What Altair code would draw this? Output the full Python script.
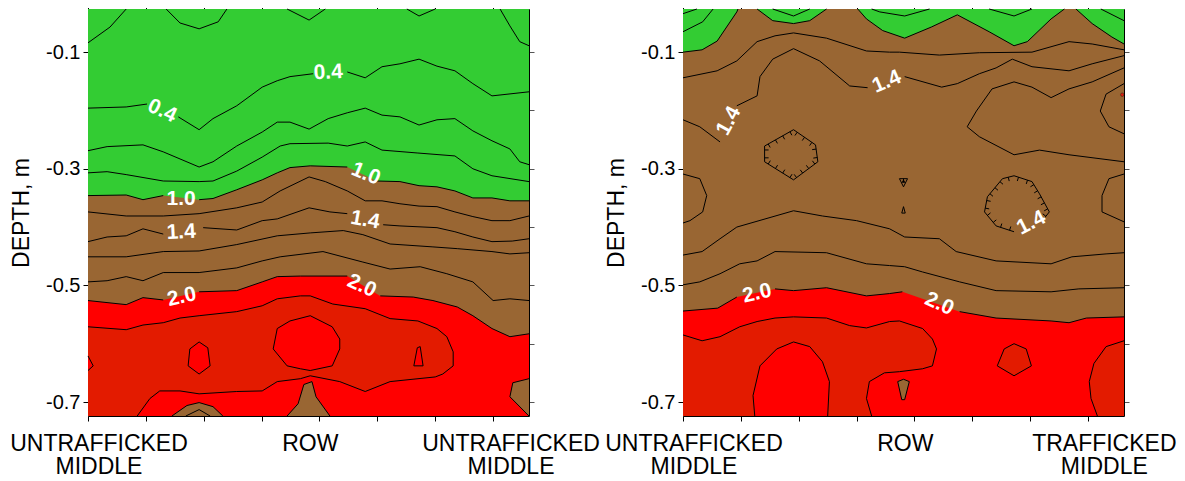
import math
import altair as alt
import pandas as pd

# ---------------- style ----------------
GREEN = "#33CC33"
BROWN = "#996633"
RED = "#FF0000"
DARK_RED = "#E31B00"
FONT = "Liberation Sans"

# ---------------- axes ----------------
X_DOMAIN = [0.0, 76.2]          # distance across the row, cm
Y_DOMAIN = [-0.724, -0.026]     # depth, m
X_TICKS = [0, 10, 20, 30, 40, 50, 60, 70]
Y_LABELLED = [-0.1, -0.3, -0.5, -0.7]
Y_MINOR = [-0.1, -0.2, -0.3, -0.4, -0.5, -0.6, -0.7]
W, H = 441, 407

# category labels under the x axis (first line, second line)
LEFT_XLABELS_1 = ["UNTRAFFICKED", "ROW", "UNTRAFFICKED"]
LEFT_XLABELS_1_POS = [1.9, 38.4, 73.1]
LEFT_XLABELS_2 = ["MIDDLE", "MIDDLE"]
LEFT_XLABELS_2_POS = [1.9, 73.1]
RIGHT_XLABELS_1 = ["UNTRAFFICKED", "ROW", "TRAFFICKED"]
RIGHT_XLABELS_1_POS = [1.9, 38.4, 72.8]
RIGHT_XLABELS_2 = ["MIDDLE", "MIDDLE"]
RIGHT_XLABELS_2_POS = [1.9, 72.8]
XLABEL_DEPTH_1 = -0.7835
XLABEL_DEPTH_2 = -0.8230

# ================= LEFT PANEL: contour lines (x cm, depth m) =================
LA_02_1 = [(0, -0.084), (3.8, -0.057), (6.6, -0.026)]
LA_02_2 = [(13.5, -0.026), (15.9, -0.050), (19.2, -0.060), (22.5, -0.048), (24.0, -0.026)]
LA_02_3 = [(34.4, -0.026), (38.2, -0.045), (41.0, -0.026)]
LA_02_4 = [(55.1, -0.026), (57.2, -0.038), (60.0, -0.026)]
LA_02_5 = [(71.2, -0.026), (72.9, -0.055), (74.6, -0.082), (76.2, -0.089)]
LA_04_1 = [(0, -0.196), (6.6, -0.194), (10.2, -0.189)]
LA_04_2 = [(15.6, -0.211), (19.2, -0.233), (21.6, -0.214), (25.7, -0.192), (30.1, -0.160),
           (32.7, -0.149), (34.9, -0.142), (38.9, -0.137)]
LA_04_3 = [(44.8, -0.134), (47.9, -0.144), (50.8, -0.125), (53.9, -0.120), (57.2, -0.112),
           (60.3, -0.124), (63.4, -0.132), (66.5, -0.154), (69.8, -0.175), (76.2, -0.168)]
LA_06 = [(0, -0.269), (3.3, -0.262), (9.5, -0.259), (13.0, -0.271), (19.2, -0.297), (21.6, -0.288),
         (25.7, -0.261), (30.1, -0.237), (32.7, -0.220), (34.9, -0.220), (38.2, -0.232), (41.5, -0.214),
         (44.8, -0.204), (47.9, -0.196), (50.8, -0.208), (53.9, -0.211), (57.2, -0.225), (60.3, -0.216),
         (63.4, -0.214), (66.5, -0.235), (69.8, -0.252), (72.9, -0.266), (74.6, -0.288), (76.2, -0.293)]
LA_08 = [(0, -0.307), (3.3, -0.305), (6.6, -0.310), (13.0, -0.321), (19.2, -0.322), (21.6, -0.321),
         (25.7, -0.304), (30.1, -0.280), (33.2, -0.261), (34.9, -0.257), (41.5, -0.256), (44.8, -0.261),
         (47.9, -0.254), (50.8, -0.268), (57.0, -0.273), (63.4, -0.278), (66.5, -0.300), (69.8, -0.312),
         (76.2, -0.322)]
LA_10_1 = [(0, -0.346), (6.6, -0.345), (9.5, -0.353), (13.0, -0.346)]
LA_10_2 = [(19.2, -0.353), (21.6, -0.351), (25.7, -0.336), (30.1, -0.319), (32.7, -0.307),
           (34.9, -0.298), (38.4, -0.295), (44.8, -0.297)]
LA_10_3 = [(49.9, -0.321), (53.9, -0.322), (57.2, -0.329), (60.3, -0.331), (63.4, -0.338),
           (66.5, -0.350), (69.8, -0.350), (72.9, -0.355), (76.2, -0.355)]
LA_12 = [(0, -0.374), (6.6, -0.381), (13.0, -0.381), (19.2, -0.377), (25.7, -0.367), (30.1, -0.357),
         (33.2, -0.338), (38.2, -0.314), (41.0, -0.322), (44.8, -0.338), (47.9, -0.355), (50.8, -0.355),
         (53.9, -0.360), (57.2, -0.364), (60.3, -0.365), (63.4, -0.374), (66.5, -0.382), (69.8, -0.389),
         (72.9, -0.389), (76.2, -0.381)]
LA_14_1 = [(0, -0.425), (3.3, -0.417), (6.6, -0.415), (9.5, -0.403), (13.0, -0.412)]
LA_14_2 = [(19.9, -0.401), (25.7, -0.405), (30.1, -0.389), (32.7, -0.386), (38.2, -0.367),
           (41.8, -0.374), (44.8, -0.377)]
LA_14_3 = [(51.0, -0.396), (53.9, -0.398), (60.3, -0.401), (63.4, -0.408), (66.5, -0.417),
           (69.8, -0.425), (73.3, -0.424), (76.2, -0.420)]
LA_16 = [(0, -0.451), (6.6, -0.451), (13.0, -0.442), (19.2, -0.441), (25.7, -0.430), (32.7, -0.415),
         (38.4, -0.410), (44.1, -0.406), (47.5, -0.413), (52.2, -0.429), (59.6, -0.434), (63.8, -0.437),
         (69.8, -0.442), (72.9, -0.446), (76.2, -0.444)]
LA_18 = [(0, -0.494), (3.3, -0.492), (6.6, -0.485), (9.5, -0.492), (13.0, -0.478), (19.2, -0.478),
         (25.7, -0.470), (30.1, -0.458), (33.2, -0.451), (40.6, -0.442), (47.5, -0.460), (52.2, -0.472),
         (57.4, -0.468), (62.0, -0.480), (66.5, -0.494), (70.0, -0.526), (72.9, -0.523), (76.2, -0.526)]
LA_20_1 = [(0, -0.526), (6.6, -0.533), (9.5, -0.521), (13.0, -0.525)]
LA_20_2 = [(19.2, -0.511), (25.7, -0.509), (30.1, -0.494), (32.7, -0.485), (36.7, -0.484), (44.8, -0.484)]
LA_20_3 = [(50.5, -0.518), (56.2, -0.520), (59.6, -0.526), (63.8, -0.537), (66.5, -0.552),
           (69.8, -0.574), (72.9, -0.588), (76.2, -0.583)]
LA_22 = [(0, -0.571), (6.6, -0.576), (9.5, -0.568), (13.0, -0.564), (15.9, -0.556), (19.2, -0.552),
         (25.7, -0.545), (30.1, -0.535), (32.7, -0.523), (36.7, -0.518), (38.4, -0.518), (42.3, -0.532),
         (47.9, -0.540), (52.2, -0.557), (57.0, -0.561), (60.3, -0.574), (62.0, -0.588), (63.1, -0.614),
         (63.1, -0.638), (61.3, -0.652), (60.0, -0.657), (52.2, -0.665), (47.9, -0.682), (43.5, -0.665),
         (38.4, -0.655), (36.7, -0.660), (32.7, -0.665), (30.1, -0.681), (25.7, -0.682), (19.2, -0.686),
         (15.9, -0.681), (12.4, -0.681), (10.7, -0.694), (8.5, -0.724)]
LA_BUMP = [(0, -0.621), (0.9, -0.638), (0, -0.646)]
LA_HEX = [(19.2, -0.597), (20.7, -0.607), (21.1, -0.638), (19.2, -0.652), (17.3, -0.638), (17.6, -0.609)]
LA_ROWISL = [(32.7, -0.574), (34.9, -0.561), (38.4, -0.552), (42.2, -0.571), (43.5, -0.592), (43.5, -0.609),
             (42.2, -0.638), (38.4, -0.646), (36.7, -0.643), (34.4, -0.638), (32.0, -0.609)]
LA_SMALL = [(56.9, -0.607), (57.4, -0.605), (57.9, -0.638), (56.3, -0.638)]
LA_B1 = [(14.5, -0.724), (17.1, -0.706), (19.2, -0.701), (21.6, -0.708), (23.3, -0.724)]
LA_B1IN = [(16.9, -0.724), (19.2, -0.713), (21.1, -0.724)]
LA_B2 = [(34.4, -0.724), (36.3, -0.703), (37.3, -0.670), (38.7, -0.665), (39.4, -0.691), (41.8, -0.724)]
LA_B3 = [(76.2, -0.660), (73.4, -0.667), (72.9, -0.691), (76.2, -0.724)]

LEFT_LABELS = [("0.4", 12.8, -0.201, 25), ("0.4", 41.5, -0.135, 357),
               ("1.0", 16.1, -0.352, 0), ("1.0", 48.0, -0.309, 22),
               ("1.4", 16.1, -0.409, 357), ("1.4", 47.9, -0.388, 10),
               ("2.0", 16.2, -0.520, 347), ("2.0", 47.3, -0.501, 24)]

# ================= RIGHT PANEL =================
RA_G1 = [(0, -0.100), (3.3, -0.096), (5.9, -0.081), (9.3, -0.031), (9.5, -0.026)]
RA_G2 = [(12.8, -0.026), (15.5, -0.046), (19.1, -0.051), (21.9, -0.046), (24.8, -0.026)]
RA_G3 = [(30.2, -0.026), (31.7, -0.043), (34.5, -0.063), (38.3, -0.076), (42.9, -0.057), (47.4, -0.036),
         (52.9, -0.065), (57.2, -0.089), (59.5, -0.082), (63.6, -0.043), (65.9, -0.026)]
RA_G4 = [(67.9, -0.026), (70.7, -0.051), (74.1, -0.074), (76.2, -0.086)]
RA_g1 = [(0, -0.065), (3.4, -0.048), (5.2, -0.026)]
RA_g1b = [(0, -0.034), (2.4, -0.026)]
RA_g2 = [(15.5, -0.026), (19.1, -0.038), (21.9, -0.026)]
RA_g3 = [(32.6, -0.026), (34.0, -0.031), (38.3, -0.038), (42.6, -0.026)]
RA_g4 = [(52.9, -0.026), (57.2, -0.038), (60.3, -0.026)]
RA_g5 = [(72.2, -0.026), (76.2, -0.046)]
RA_12 = [(0, -0.144), (5.9, -0.132), (9.3, -0.115), (12.8, -0.082), (15.9, -0.072), (19.1, -0.067),
         (24.8, -0.076), (31.7, -0.098), (35.7, -0.100), (37.4, -0.100), (44.3, -0.105), (51.2, -0.101),
         (60.3, -0.100), (66.7, -0.082), (70.7, -0.086), (76.2, -0.096)]
RA_14_1 = [(0, -0.216), (2.9, -0.228), (6.4, -0.254)]
RA_14_2 = [(9.3, -0.192), (12.8, -0.175), (13.3, -0.142), (15.5, -0.112), (19.1, -0.094), (23.6, -0.115),
           (28.8, -0.158), (31.9, -0.161)]
RA_14_3 = [(38.3, -0.142), (44.7, -0.160), (47.4, -0.154), (51.2, -0.137), (54.1, -0.127), (56.9, -0.112),
           (60.3, -0.125), (66.7, -0.132), (70.7, -0.120), (76.2, -0.106)]
RA_C = [(76.2, -0.127), (70.7, -0.151), (66.7, -0.163), (63.6, -0.178), (60.3, -0.160), (57.2, -0.151),
        (53.4, -0.163), (50.7, -0.201), (49.1, -0.228), (51.2, -0.245), (57.2, -0.276), (61.6, -0.268),
        (66.7, -0.276), (76.2, -0.288)]
RA_D = [(76.2, -0.154), (73.1, -0.172), (72.1, -0.201), (73.6, -0.228), (76.2, -0.240)]
RA_E = [(57.2, -0.408), (54.1, -0.398), (52.1, -0.374), (52.6, -0.348), (55.2, -0.317), (57.2, -0.312),
        (60.3, -0.322), (61.6, -0.343), (63.3, -0.374), (62.1, -0.389)]
RA_F = [(76.2, -0.309), (73.6, -0.317), (72.4, -0.346), (72.4, -0.374), (76.2, -0.391)]
RA_HEX = [(19.1, -0.233), (22.9, -0.259), (23.3, -0.288), (19.1, -0.319), (14.1, -0.288), (14.1, -0.261)]
RA_LEFT = [(0, -0.309), (2.9, -0.317), (4.1, -0.346), (3.4, -0.374), (1.2, -0.389), (0, -0.393)]
RA_TRI1 = [(37.4, -0.317), (38.8, -0.317), (38.1, -0.331)]
RA_TRI2 = [(37.8, -0.376), (38.4, -0.376), (38.1, -0.365)]
RA_16 = [(0, -0.448), (3.3, -0.442), (6.4, -0.420), (9.3, -0.400), (19.1, -0.372), (24.1, -0.381),
         (30.0, -0.389), (35.7, -0.403), (38.3, -0.417), (44.3, -0.420), (47.2, -0.442), (54.1, -0.458),
         (63.6, -0.463), (67.2, -0.451), (73.1, -0.446), (76.2, -0.444)]
RA_18 = [(0, -0.499), (2.9, -0.494), (6.4, -0.480), (9.8, -0.463), (12.8, -0.458), (15.9, -0.442),
         (24.8, -0.444), (31.7, -0.463), (35.7, -0.466), (38.3, -0.468), (41.4, -0.477), (47.8, -0.494),
         (54.1, -0.509), (63.6, -0.511), (68.4, -0.506), (76.2, -0.504)]
RA_20_1 = [(0, -0.544), (6.0, -0.539), (9.3, -0.520)]
RA_20_2 = [(15.9, -0.506), (19.1, -0.509), (24.8, -0.504), (31.7, -0.518), (35.7, -0.514), (37.9, -0.511)]
RA_20_3 = [(47.8, -0.545), (54.1, -0.556), (63.6, -0.561), (66.7, -0.564), (69.7, -0.556), (76.2, -0.554)]
RA_22 = [(0, -0.585), (3.3, -0.595), (6.4, -0.588), (9.8, -0.571), (12.8, -0.562), (15.9, -0.556),
         (19.1, -0.554), (24.8, -0.556), (28.8, -0.569), (31.7, -0.573), (35.7, -0.562), (37.4, -0.561),
         (41.4, -0.574), (43.1, -0.592), (43.8, -0.609), (43.1, -0.638), (41.4, -0.643), (37.4, -0.648),
         (34.8, -0.650), (32.2, -0.665), (31.7, -0.694), (32.6, -0.724)]
RA_ARCH = [(12.4, -0.724), (12.1, -0.689), (13.3, -0.638), (16.2, -0.609), (19.1, -0.597), (21.9, -0.605),
           (24.1, -0.631), (25.3, -0.665), (25.0, -0.724)]
RA_PENT = [(57.2, -0.600), (59.3, -0.609), (60.2, -0.638), (57.2, -0.655), (54.3, -0.638), (55.5, -0.609)]
RA_RDARK = [(76.2, -0.595), (73.1, -0.605), (71.0, -0.634), (70.2, -0.665), (70.5, -0.694), (71.6, -0.724)]
RA_SBROWN = [(37.1, -0.665), (38.1, -0.661), (39.1, -0.665), (38.3, -0.696), (37.8, -0.696)]
RA_REDDOT = [(75.9, -0.173)]

RIGHT_LABELS = [("1.4", 7.9, -0.218, 298), ("1.4", 35.2, -0.151, 337),
                ("1.4", 60.2, -0.393, 333),
                ("2.0", 12.8, -0.514, 347), ("2.0", 44.3, -0.532, 24)]

# ---------------- helpers ----------------
def xs():
    return alt.Scale(domain=X_DOMAIN, nice=False, zero=False)


def ys():
    return alt.Scale(domain=Y_DOMAIN, nice=False, zero=False)


def ex(field="x"):
    return alt.X(f"{field}:Q", scale=xs(), axis=None)


def ey(field="d"):
    return alt.Y(f"{field}:Q", scale=ys(), axis=None)


def path_frame(paths):
    rows = []
    for pid, (pts, closed) in enumerate(paths):
        seq = list(pts) + ([pts[0]] if closed else [])
        for i, (x, d) in enumerate(seq):
            rows.append({"x": x, "d": d, "pid": pid, "i": i})
    return pd.DataFrame(rows)


def hatch_frame(paths, tick_px=4.0, spacing_px=8.0):
    px_x = W / (X_DOMAIN[1] - X_DOMAIN[0])
    px_y = H / (Y_DOMAIN[1] - Y_DOMAIN[0])
    rows = []
    for pts, closed in paths:
        cx = sum(p[0] for p in pts) / len(pts)
        cy = sum(p[1] for p in pts) / len(pts)
        seq = list(pts) + ([pts[0]] if closed else [])
        for (x1, d1), (x2, d2) in zip(seq[:-1], seq[1:]):
            ex_, ey_ = (x2 - x1) * px_x, (d2 - d1) * px_y
            ln = math.hypot(ex_, ey_)
            if ln == 0:
                continue
            n = max(1, round(ln / spacing_px))
            nx, ny = -ey_ / ln, ex_ / ln
            for k in range(n):
                t = (k + 0.5) / n
                px, py = x1 + t * (x2 - x1), d1 + t * (d2 - d1)
                s = 1 if (nx * (cx - px) * px_x + ny * (cy - py) * px_y) > 0 else -1
                rows.append({"x": px, "d": py,
                             "x2": px + s * nx * tick_px / px_x,
                             "d2": py + s * ny * tick_px / px_y})
    return pd.DataFrame(rows)


BASE = pd.DataFrame({"x0": [X_DOMAIN[0]], "x1": [X_DOMAIN[1]],
                     "y0": [Y_DOMAIN[0]], "y1": [Y_DOMAIN[1]]})

LABEL_EXPR = "datum.value < 0 ? '-' + format(-datum.value, '.1f') : format(datum.value, '.1f')"


def xlabel_layer(texts, pos, depth):
    df = pd.DataFrame({"t": texts, "x": pos, "yb": [depth] * len(texts)})
    return alt.Chart(df).mark_text(font=FONT, fontSize=23, color="black", align="center",
                                   baseline="alphabetic").encode(x=ex(), y=ey("yb"), text="t:N")


def panel(fills, areas, lines, hatched, labels, xl1, xl1_pos, xl2, xl2_pos, dots=None):
    layers = []
    layers.append(alt.Chart(BASE).mark_rect(color=RED).encode(
        x=alt.X("x0:Q", scale=xs(), title=None,
                axis=alt.Axis(orient="bottom", values=X_TICKS, labels=False, tickSize=5, grid=False)),
        x2="x1:Q",
        y=alt.Y("y0:Q", scale=ys(), title="DEPTH, m",
                axis=alt.Axis(orient="left", values=Y_LABELLED, labelExpr=LABEL_EXPR, tickSize=5,
                              labelPadding=3, titlePadding=12, grid=False)),
        y2="y1:Q"))
    for color, polys in fills:
        df = path_frame([(p, False) for p in polys])
        layers.append(alt.Chart(df).mark_line(color=color, fill=color, strokeOpacity=0).encode(
            x=ex(), y=ey(), detail="pid:N", order="i:Q"))
    for color, bands in areas:
        rows = []
        for pid, pts in enumerate(bands):
            for x, d in pts:
                rows.append({"x": x, "d": d, "top": Y_DOMAIN[1], "pid": pid})
        layers.append(alt.Chart(pd.DataFrame(rows)).mark_area(color=color).encode(
            x=ex(), y=ey(), y2="top:Q", detail="pid:N"))
    layers.append(alt.Chart(path_frame(lines)).mark_line(color="black", strokeWidth=1).encode(
        x=ex(), y=ey(), detail="pid:N", order="i:Q"))
    if hatched:
        layers.append(alt.Chart(hatch_frame(hatched)).mark_rule(color="black", strokeWidth=1).encode(
            x=ex(), y=ey(), x2="x2:Q", y2="d2:Q"))
    if dots:
        dd = pd.DataFrame(dots, columns=["x", "d"])
        layers.append(alt.Chart(dd).mark_point(shape="circle", filled=True, color=RED, size=12,
                                               stroke="black", strokeWidth=0.5).encode(x=ex(), y=ey()))
    lab = pd.DataFrame(labels, columns=["t", "x", "d", "a"])
    layers.append(alt.Chart(lab).mark_text(font=FONT, fontSize=21, fontWeight="bold", color="white",
                                           align="center", baseline="middle").encode(
        x=ex(), y=ey(), text="t:N", angle=alt.Angle("a:Q", scale=None)))
    layers.append(xlabel_layer(xl1, xl1_pos, XLABEL_DEPTH_1))
    layers.append(xlabel_layer(xl2, xl2_pos, XLABEL_DEPTH_2))
    layers.append(alt.Chart(BASE).mark_rect(opacity=0).encode(
        x=alt.X("x0:Q", scale=xs(), title=None,
                axis=alt.Axis(orient="top", values=X_TICKS, labels=False, tickSize=5, grid=False)),
        x2="x1:Q",
        y=alt.Y("y0:Q", scale=ys(), title=None,
                axis=alt.Axis(orient="right", values=Y_MINOR, labels=False, tickSize=5, grid=False,
                              tickColor="#555555")),
        y2="y1:Q"))
    return alt.layer(*layers).resolve_axis(x="independent", y="independent").properties(width=W, height=H)


left = panel(
    fills=[(DARK_RED, [LA_22 + [(0.0, -0.724)]]),
           (RED, [LA_BUMP, LA_HEX, LA_ROWISL, LA_SMALL]),
           (BROWN, [LA_B1, LA_B2, LA_B3])],
    areas=[(BROWN, [LA_20_1 + LA_20_2 + LA_20_3]), (GREEN, [LA_10_1 + LA_10_2 + LA_10_3])],
    lines=[(p, False) for p in [LA_02_1, LA_02_2, LA_02_3, LA_02_4, LA_02_5, LA_04_1, LA_04_2, LA_04_3,
                                LA_06, LA_08, LA_10_1, LA_10_2, LA_10_3, LA_12, LA_14_1, LA_14_2, LA_14_3,
                                LA_16, LA_18, LA_20_1, LA_20_2, LA_20_3, LA_22, LA_BUMP,
                                LA_B1, LA_B1IN, LA_B2, LA_B3]]
          + [(p, True) for p in [LA_HEX, LA_ROWISL, LA_SMALL]],
    hatched=[],
    labels=LEFT_LABELS,
    xl1=LEFT_XLABELS_1, xl1_pos=LEFT_XLABELS_1_POS,
    xl2=LEFT_XLABELS_2, xl2_pos=LEFT_XLABELS_2_POS)

right = panel(
    fills=[(DARK_RED, [RA_22 + [(0.0, -0.724)], RA_PENT, RA_RDARK + [(76.2, -0.724)]]),
           (RED, [RA_ARCH]),
           (BROWN, [RA_SBROWN])],
    areas=[(BROWN, [RA_20_1 + RA_20_2 + RA_20_3]), (GREEN, [RA_G1, RA_G2, RA_G3, RA_G4])],
    lines=[(p, False) for p in [RA_G1, RA_G2, RA_G3, RA_G4, RA_g1, RA_g1b, RA_g2, RA_g3, RA_g4, RA_g5,
                                RA_12, RA_14_1, RA_14_2, RA_14_3, RA_C, RA_D, RA_E, RA_F, RA_LEFT,
                                RA_16, RA_18, RA_20_1, RA_20_2, RA_20_3, RA_22, RA_ARCH, RA_RDARK]]
          + [(p, True) for p in [RA_HEX, RA_TRI1, RA_TRI2, RA_PENT, RA_SBROWN]],
    hatched=[(RA_HEX, True), (RA_E, False), (RA_TRI1, True)],
    labels=RIGHT_LABELS,
    xl1=RIGHT_XLABELS_1, xl1_pos=RIGHT_XLABELS_1_POS,
    xl2=RIGHT_XLABELS_2, xl2_pos=RIGHT_XLABELS_2_POS,
    dots=RA_REDDOT)

chart = alt.hconcat(left, right, spacing=154, bounds="flush").properties(
    padding={"left": 2, "top": -5, "right": 0, "bottom": 0},
    background="white",
).configure_view(strokeWidth=0).configure_axis(
    labelFont=FONT, labelFontSize=20, labelColor="black",
    titleFont=FONT, titleFontSize=23, titleFontWeight="normal", titleColor="black",
    tickColor="black", domainColor="black", tickWidth=1, domainWidth=1,
)

chart.save("out.html", embed_options={"renderer": "svg", "actions": False})
